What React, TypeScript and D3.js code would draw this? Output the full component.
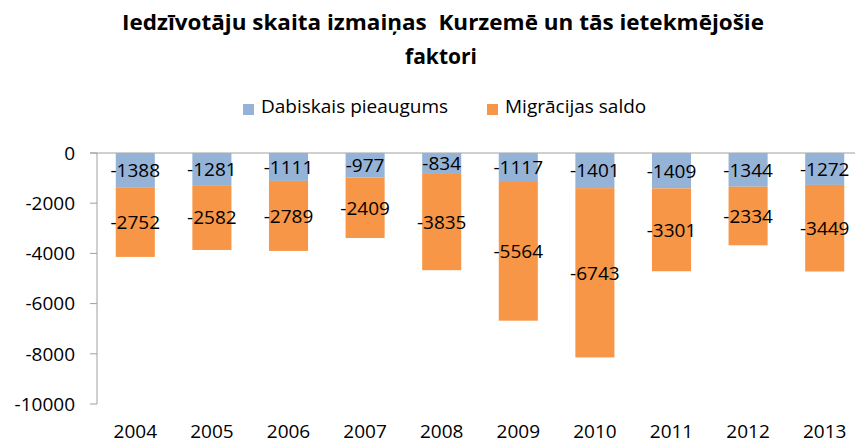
import React from "react";
import * as d3 from "d3";

const years = ["2004", "2005", "2006", "2007", "2008", "2009", "2010", "2011", "2012", "2013"];
const dabiskais = [-1388, -1281, -1111, -977, -834, -1117, -1401, -1409, -1344, -1272];
const migracija = [-2752, -2582, -2789, -2409, -3835, -5564, -6743, -3301, -2334, -3449];
const yTicks = [0, -2000, -4000, -6000, -8000, -10000];
const seriesNames = ["Dabiskais pieaugums", "Migrācijas saldo"];
const colors = ["#95B3D7", "#F79646"];

const W = 855;
const H = 444;
const FONT = "'Open Sans', sans-serif";

export default function App() {
  const x = d3
    .scaleBand<string>()
    .domain(years)
    .range([97, 863])
    .paddingInner(0.49)
    .paddingOuter(0.245);
  const y = d3.scaleLinear().domain([-10000, 0]).range([404, 153]);

  const rows = years.map((yr, i) => {
    const a = dabiskais[i];
    const b = migracija[i];
    return {
      yr,
      segs: [
        { v: a, y0: 0, y1: a, c: colors[0] },
        { v: b, y0: a, y1: a + b, c: colors[1] },
      ],
    };
  });

  return (
    <svg width={W} height={H} style={{ position: "absolute", left: 0, top: 0, background: "#fff" }}>
      <rect width={W} height={H} fill="#fff" />
      <g fontFamily={FONT} fontWeight="bold" fill="#000" textAnchor="middle">
        <text
          x={443}
          y={30}
          fontSize={21}
          textLength={642}
          lengthAdjust="spacingAndGlyphs"
          style={{ whiteSpace: "pre" }}
        >
          {"Iedzīvotāju skaita izmaiņas  Kurzemē un tās ietekmējošie"}
        </text>
        <text x={441} y={64} fontSize={21}>
          faktori
        </text>
      </g>
      <g fontFamily={FONT} fontSize={19} fill="#000">
        <rect x={243} y={104} width={11} height={11} fill={colors[0]} />
        <text x={261} y={113}>{seriesNames[0]}</text>
        <rect x={487} y={104} width={11} height={11} fill={colors[1]} />
        <text x={505} y={113}>{seriesNames[1]}</text>
      </g>
      <line x1={97} x2={97} y1={y(0)} y2={y(-10000)} stroke="#A0A0A0" strokeWidth={1} />
      <line x1={90} x2={W} y1={y(0)} y2={y(0)} stroke="#A0A0A0" strokeWidth={1} />
      {yTicks.map((t) => (
        <g key={t}>
          <line x1={90} x2={97} y1={y(t)} y2={y(t)} stroke="#A0A0A0" />
          <text
            x={75}
            y={y(t)}
            dy="0.36em"
            textAnchor="end"
            fontFamily={FONT}
            fontSize={19}
            fill="#000"
          >
            {t}
          </text>
        </g>
      ))}
      {rows.map((r) => (
        <g key={r.yr}>
          {r.segs.map((s, j) => (
            <rect
              key={j}
              x={x(r.yr)}
              width={x.bandwidth()}
              y={y(s.y0)}
              height={y(s.y1) - y(s.y0)}
              fill={s.c}
            />
          ))}
          {r.segs.map((s, j) => (
            <text
              key={"l" + j}
              x={(x(r.yr) as number) + x.bandwidth() / 2}
              y={(y(s.y0) + y(s.y1)) / 2}
              dy="0.36em"
              textAnchor="middle"
              fontFamily={FONT}
              fontSize={19}
              fill="#000"
            >
              {s.v}
            </text>
          ))}
          <text
            x={(x(r.yr) as number) + x.bandwidth() / 2}
            y={438}
            textAnchor="middle"
            fontFamily={FONT}
            fontSize={19}
            fill="#000"
          >
            {r.yr}
          </text>
        </g>
      ))}
    </svg>
  );
}
